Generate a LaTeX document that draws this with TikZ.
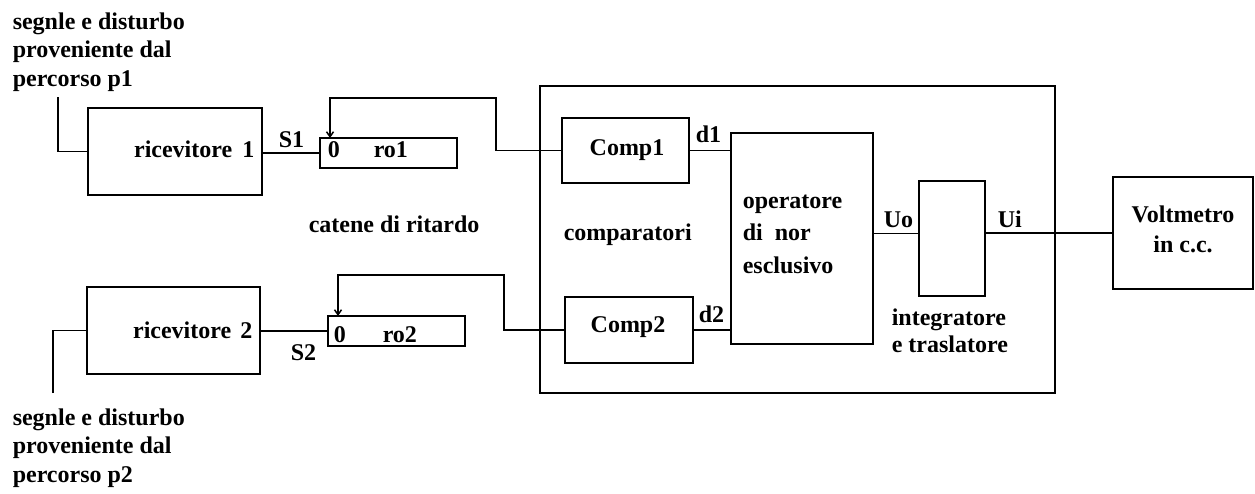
\documentclass[tikz,border=0pt]{standalone}
\usepackage{fontspec}
\setmainfont{Liberation Serif}
\usetikzlibrary{arrows.meta,positioning,calc}
\newcommand{\lblfont}{\bfseries\fontsize{24}{28.5}\selectfont}

\begin{document}
\begin{tikzpicture}[x=1pt,y=-1pt,line width=1.5pt,
  box/.style={draw,inner sep=0pt,outer sep=0pt},
  lbl/.style={font=\lblfont,inner sep=0pt},
  fb/.style={-{Straight Barb[length=5pt,width=7pt]}}]
  \useasboundingbox (0,0) rectangle (1255,493);

  % receivers and delay lines
  \node[box,minimum width=174pt,minimum height=87pt] (ric1) at (175,151.5) {};
  \node[box,minimum width=173pt,minimum height=87pt] (ric2) at (173.5,330.5) {};
  \node[box,minimum width=137pt,minimum height=30pt] (ro1) at (388.5,153) {};
  \node[box,minimum width=137pt,minimum height=30pt] (ro2) at (396.5,331) {};

  % comparators block
  \node[box,minimum width=515pt,minimum height=307pt] (frame) at (797.5,239.5) {};
  \node[box,minimum width=127pt,minimum height=65pt] (comp1) at (625.5,150.5) {};
  \node[box,minimum width=128pt,minimum height=66pt] (comp2) at (629,330) {};
  \node[box,minimum width=142pt,minimum height=211pt] (xnor) at (802,238.5) {};
  \node[box,minimum width=66pt,minimum height=115pt] (integ) at (952,238.5) {};
  \node[box,minimum width=140pt,minimum height=112pt] (volt) at (1183,233) {};

  % connections
  \coordinate (src1) at (58,97);
  \coordinate (src2) at (53,393);
  \draw (src1) |- (ric1.west);
  \draw (src2) |- (ric2.west);
  \draw (ric1.east |- ro1.west) -- (ro1.west);
  \draw (ric2.east |- ro2.west) -- (ro2.west);
  \coordinate (fb1) at (496,98);
  \coordinate (fb2) at (504,275);
  \draw[fb] (comp1.west) -| (fb1) -| ([xshift=10pt]ro1.north west);
  \draw[fb] (comp2.west) -| (fb2) -| ([xshift=10pt]ro2.north west);
  \draw (comp1.east) -- (comp1.east -| xnor.west);
  \draw (comp2.east) -- (comp2.east -| xnor.west);
  \draw ([yshift=5pt]xnor.east) -- ([yshift=5pt]integ.west);
  \draw (integ.east |- volt.west) -- (volt.west);

  % labels (multi-line nodes sit on their last baseline)
  \node[lbl,align=left,anchor=base west] (txt1) at (12,86)
    {segnle e disturbo\\proveniente dal\\percorso p1};
  \node[lbl,align=left,anchor=base west] (txt2) at (12,482)
    {segnle e disturbo\\proveniente dal\\percorso p2};
  \node[lbl,anchor=base east] (ric1lbl) at (255,157) {ricevitore\hspace{10pt}1};
  \node[lbl,anchor=base east] (ric2lbl) at (253,338) {ricevitore\hspace{9pt}2};
  \node[lbl,anchor=base west] (s1) at (278,147) {S1};
  \node[lbl,anchor=base west] (s2) at (290,360) {S2};
  \node[lbl,anchor=base west] (ro1zero) at (327,157) {0};
  \node[lbl,anchor=base west] (ro1lbl) at (373,157) {ro1};
  \node[lbl,anchor=base west] (ro2zero) at (333,342) {0};
  \node[lbl,anchor=base west] (ro2lbl) at (382,342) {ro2};
  \node[lbl,anchor=base west] (catene) at (308,232) {catene di ritardo};
  \node[lbl,anchor=base west] (complbl) at (563,240) {comparatori};
  \node[lbl,anchor=base] (comp1lbl) at (627,155) {Comp1};
  \node[lbl,anchor=base] (comp2lbl) at (628,332) {Comp2};
  \node[lbl,anchor=base west] (d1) at (695,142) {d1};
  \node[lbl,anchor=base west] (d2) at (698,322) {d2};
  \node[lbl,align=left,anchor=base west,font=\bfseries\fontsize{24}{32.5}\selectfont]
    (xnorlbl) at (742,273) {operatore\\di\ \ nor\\esclusivo};
  \node[lbl,anchor=base west] (uo) at (883,227) {Uo};
  \node[lbl,anchor=base west] (ui) at (997,227) {Ui};
  \node[lbl,align=left,anchor=base west,font=\bfseries\fontsize{24}{27}\selectfont]
    (integlbl) at (891,352) {integratore\\e traslatore};
  \node[lbl,align=center,anchor=base,font=\bfseries\fontsize{24}{30}\selectfont]
    (voltlbl) at (1183,252) {Voltmetro\\in c.c.};
\end{tikzpicture}
\end{document}
